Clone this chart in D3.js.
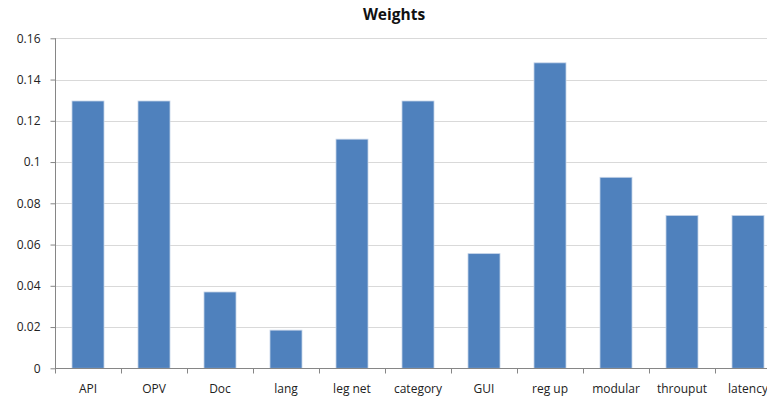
<!DOCTYPE html>
<html><head><meta charset="utf-8">
<script src="https://cdn.jsdelivr.net/npm/d3@7"></script>
<style>body{margin:0;background:#fff;overflow:hidden}svg{display:block}</style>
</head><body>
<script>
const categories = ["API","OPV","Doc","lang","leg net","category","GUI","reg up","modular","throuput","latency"];
const weights = [0.1296,0.1296,0.0370,0.0185,0.1111,0.1296,0.0556,0.1481,0.0926,0.0741,0.0741];
const yTicks = [0,0.02,0.04,0.06,0.08,0.1,0.12,0.14,0.16];
const title = "Weights";

const W = 767, H = 397;
const mLeft = 55, mRight = 781, mTop = 38.3, mBottom = 368.3;
const svg = d3.select("body").append("svg").attr("width", W).attr("height", H);
const font = "'Open Sans', sans-serif";

const x = d3.scaleBand().domain(categories).range([mLeft, mRight]).paddingInner(0.515).paddingOuter(0.2575);
const y = d3.scaleLinear().domain([0, 0.16]).range([mBottom, mTop]);

// gridlines
svg.append("g").selectAll("line").data(yTicks.slice(1)).join("line")
  .attr("x1", mLeft).attr("x2", mRight)
  .attr("y1", d => Math.round(y(d)) + 0.5).attr("y2", d => Math.round(y(d)) + 0.5)
  .attr("stroke", "#d9d9d9").attr("stroke-width", 1);

// bars
svg.append("g").selectAll("rect").data(categories).join("rect")
  .attr("x", (d) => x(d))
  .attr("width", x.bandwidth())
  .attr("y", (d, i) => y(weights[i]))
  .attr("height", (d, i) => mBottom - y(weights[i]))
  .attr("fill", "#4f81bd")
  .attr("stroke", "#c6d4e8").attr("stroke-width", 0.8);

// y axis
const yAxis = d3.axisLeft(y).tickValues(yTicks).tickFormat(d => d === 0 ? "0" : String(+d.toFixed(2))).tickSize(5).tickPadding(10);
const gy = svg.append("g").attr("transform", `translate(${mLeft + 0.5},0)`).call(yAxis);
gy.select(".domain").attr("stroke", "#868686").attr("d", `M0,${mTop}V${mBottom}`);
gy.selectAll(".tick line").attr("stroke", "#868686");
gy.selectAll(".tick text").attr("fill", "#222").style("font-family", font).style("font-size", "12px");

// x axis
const tickPositions = categories.map(c => x(c) - x.step() * x.paddingInner() / 2);
tickPositions.push(mRight);
const gx = svg.append("g").attr("transform", `translate(0,${Math.round(mBottom) + 0.5})`);
gx.append("line").attr("x1", mLeft).attr("x2", mRight).attr("stroke", "#868686");
gx.selectAll("line.tk").data(tickPositions).join("line").attr("class","tk")
  .attr("x1", d => Math.round(d) + 0.5).attr("x2", d => Math.round(d) + 0.5)
  .attr("y1", 0).attr("y2", 5).attr("stroke", "#868686");
gx.selectAll("text").data(categories).join("text")
  .attr("x", d => x(d) + x.bandwidth() / 2).attr("y", 24)
  .attr("text-anchor", "middle").attr("fill", "#222")
  .style("font-family", font).style("font-size", "12px").text(d => d);

// title
svg.append("text").attr("x", 394).attr("y", 19.5).attr("text-anchor", "middle")
  .style("font-family", font).style("font-size", "15.5px").style("font-weight", "bold")
  .attr("fill", "#111").text(title);
</script>
</body></html>
